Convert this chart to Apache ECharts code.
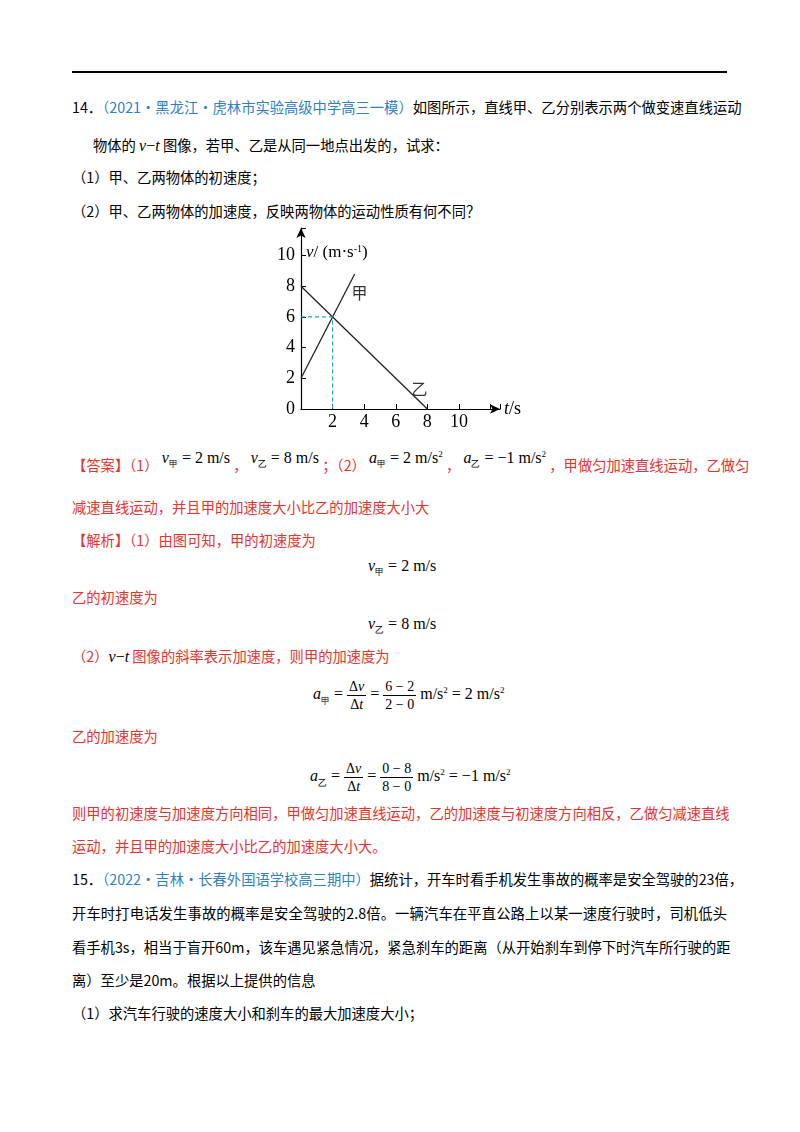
<!DOCTYPE html>
<html><head><meta charset="utf-8">
<script src="https://cdn.jsdelivr.net/npm/echarts@6/dist/echarts.min.js"></script>
<style>
body{margin:0;width:800px;height:1132px;background:#fff;position:relative;font-family:"Noto Sans CJK SC",serif;color:#000;}
.l{position:absolute;left:72px;width:655px;font-size:14.3px;line-height:20px;white-space:nowrap;}
.j{text-align-last:justify;}
.r{color:#e8322e;}
.b{color:#2f7fc1;}
.m{font-family:"Liberation Serif",serif;font-size:16px;}
.i{font-style:italic;}
sub{font-size:9px;}
sup{font-size:9px;}
.fr{display:inline-block;vertical-align:middle;text-align:center;font-family:"Liberation Serif",serif;font-size:14px;line-height:17px;}
.fr span{display:block;}
.fr .t{border-bottom:1px solid #000;padding:0 2px;}
#chart{position:absolute;left:250px;top:215px;width:280px;height:220px;}
</style></head><body>
<div style="position:absolute;left:72px;top:71px;width:655px;height:2px;background:#000"></div>
<div class="l j" style="top:97px">14．<span class="b">（2021·黑龙江·虎林市实验高级中学高三一模）</span>如图所示，直线甲、乙分别表示两个做变速直线运动</div>
<div class="l" style="top:135px;left:93px">物体的 <span class="m i">v</span><span class="m">−</span><span class="m i">t</span> 图像，若甲、乙是从同一地点出发的，试求：</div>
<div class="l" style="top:167px">（1）甲、乙两物体的初速度；</div>
<div class="l" style="top:201px">（2）甲、乙两物体的加速度，反映两物体的运动性质有何不同？</div>
<div id="chart"></div>
<div class="l r" style="top:452px">【答案】（1） <span class="m" style="color:#000;position:relative;top:-8px"><i>v</i><sub>甲</sub> = 2 m/s</span> ， <span class="m" style="color:#000;position:relative;top:-8px"><i>v</i><sub>乙</sub> = 8 m/s</span> ；（2） <span class="m" style="color:#000;position:relative;top:-8px"><i>a</i><sub>甲</sub> = 2 m/s<sup>2</sup></span> ， <span class="m" style="color:#000;position:relative;top:-8px"><i>a</i><sub>乙</sub> = −1 m/s<sup>2</sup></span> ，甲做匀加速直线运动，乙做匀</div>
<div class="l r" style="top:497px">减速直线运动，并且甲的加速度大小比乙的加速度大小大</div>
<div class="l r" style="top:530px">【解析】（1）由图可知，甲的初速度为</div>
<div class="l m" style="top:556px;left:368px"><i>v</i><sub>甲</sub> = 2 m/s</div>
<div class="l r" style="top:587px">乙的初速度为</div>
<div class="l m" style="top:614px;left:368px"><i>v</i><sub>乙</sub> = 8 m/s</div>
<div class="l r" style="top:646px">（2）<span class="m i" style="color:#000">v</span><span class="m" style="color:#000">−</span><span class="m i" style="color:#000">t</span> 图像的斜率表示加速度，则甲的加速度为</div>
<div class="l m" style="top:670px;left:313px;line-height:40px"><i>a</i><sub>甲</sub> = <span class="fr"><span class="t">Δ<i>v</i></span><span>Δ<i>t</i></span></span> = <span class="fr"><span class="t">6 − 2</span><span>2 − 0</span></span> m/s<sup>2</sup> = 2 m/s<sup>2</sup></div>
<div class="l r" style="top:726px">乙的加速度为</div>
<div class="l m" style="top:752px;left:310px;line-height:40px"><i>a</i><sub>乙</sub> = <span class="fr"><span class="t">Δ<i>v</i></span><span>Δ<i>t</i></span></span> = <span class="fr"><span class="t">0 − 8</span><span>8 − 0</span></span> m/s<sup>2</sup> = −1 m/s<sup>2</sup></div>
<div class="l r j" style="top:803px">则甲的初速度与加速度方向相同，甲做匀加速直线运动，乙的加速度与初速度方向相反，乙做匀减速直线</div>
<div class="l r" style="top:836px">运动，并且甲的加速度大小比乙的加速度大小大。</div>
<div class="l j" style="top:869px">15．<span class="b">（2022·吉林·长春外国语学校高三期中）</span>据统计，开车时看手机发生事故的概率是安全驾驶的23倍，</div>
<div class="l j" style="top:903px">开车时打电话发生事故的概率是安全驾驶的2.8倍。一辆汽车在平直公路上以某一速度行驶时，司机低头</div>
<div class="l j" style="top:937px">看手机3s，相当于盲开60m，该车遇见紧急情况，紧急刹车的距离（从开始刹车到停下时汽车所行驶的距</div>
<div class="l" style="top:970px">离）至少是20m。根据以上提供的信息</div>
<div class="l" style="top:1003px">（1）求汽车行驶的速度大小和刹车的最大加速度大小；</div>
<script>
var xTicks = [2, 4, 6, 8, 10];
var lineJia = [[0, 2], [3.4, 8.8]];
var lineYi = [[0, 8], [8, 0]];
var guide = [[0, 6], [2, 6], [2, 0]];
var labelJia = [3.7, 7.6];
var labelYi = [7.5, 1.3];

var myChart = echarts.init(document.getElementById('chart'));
var serif = 'Liberation Serif';
option = {
    animation: false,
    grid: { left: 51, top: 13, right: 280 - 51 - 199, bottom: 220 - 194 },
    xAxis: {
        type: 'value', min: 0, max: 12.6, interval: 2,
        axisLine: { lineStyle: { color: '#000', width: 1.2 }, symbol: ['none', 'arrow'], symbolSize: [7, 10] },
        axisTick: { inside: true, length: 5, lineStyle: { color: '#000' } },
        splitLine: { show: false },
        axisLabel: {
            color: '#000', fontFamily: serif, fontSize: 18, margin: 4, showMinLabel: false,
            formatter: function (v) { return xTicks.indexOf(v) >= 0 ? v : ''; }
        },
        name: '{i|t}{n|/s}', nameGap: 4,
        nameTextStyle: { rich: { i: { fontFamily: serif, fontStyle: 'italic', fontSize: 18 }, n: { fontFamily: serif, fontSize: 18 } } }
    },
    yAxis: {
        type: 'value', min: 0, max: 11.8, interval: 2,
        axisLine: { lineStyle: { color: '#000', width: 1.2 }, symbol: ['none', 'arrow'], symbolSize: [7, 10] },
        axisTick: { inside: true, length: 5, lineStyle: { color: '#000' } },
        splitLine: { show: false },
        axisLabel: {
            color: '#000', fontFamily: serif, fontSize: 18, margin: 6,
            formatter: function (v) { return v > 10 ? '' : v; }
        },
        name: '{i|v}{n|/ (m·s}{s|-1}{n|)}', nameGap: -16, nameLocation: 'end',
        nameTextStyle: { align: 'left', verticalAlign: 'top', padding: [0, 0, 0, 5],
            rich: { i: { fontFamily: serif, fontStyle: 'italic', fontSize: 17 }, n: { fontFamily: serif, fontSize: 17 }, s: { fontFamily: serif, fontSize: 10, verticalAlign: 'top', padding: [0, 0, 8, 0] } } }
    },
    series: [
        { type: 'line', data: lineJia, symbol: 'none', lineStyle: { color: '#222', width: 1.3 } },
        { type: 'line', data: lineYi, symbol: 'none', lineStyle: { color: '#222', width: 1.3 } },
        { type: 'line', data: guide, symbol: 'none', lineStyle: { color: '#2aa0c8', width: 1.2, type: [4, 3] } },
        { type: 'scatter', symbolSize: 0,
          data: [{ value: labelJia, name: '甲' }, { value: labelYi, name: '乙' }],
          label: { show: true, formatter: '{b}', color: '#000', fontSize: 16, fontFamily: 'Noto Sans CJK SC' } }
    ]
};
myChart.setOption(option);
</script>
</body></html>
